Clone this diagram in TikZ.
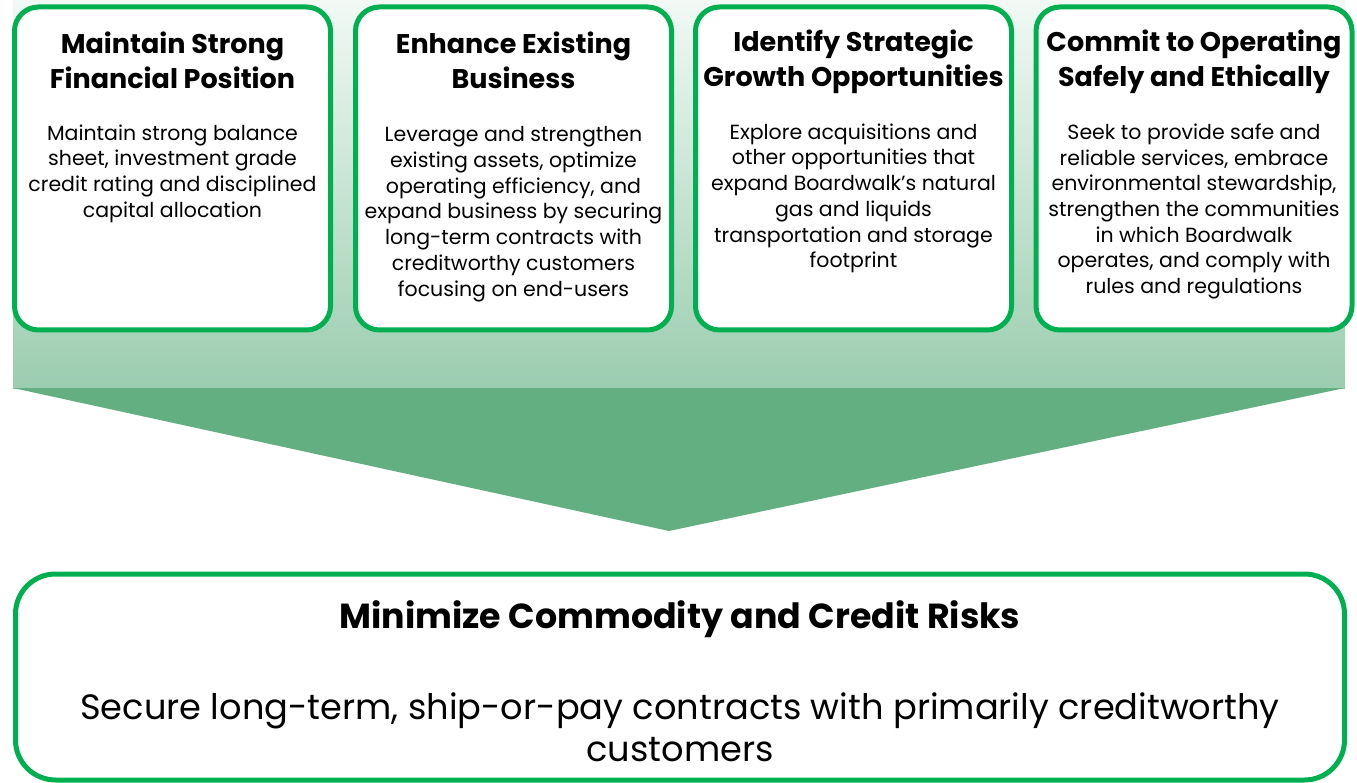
\documentclass[tikz,border=0pt]{standalone}
\usepackage{fontspec}
\setmainfont{Poppins}
\usetikzlibrary{positioning}
\definecolor{boxgreen}{HTML}{00B050}
\definecolor{arrowgreen}{HTML}{63AF82}
\definecolor{fadetop}{HTML}{F2F9F5}
\definecolor{fadebottom}{HTML}{9BCDAF}

\begin{document}
\begin{tikzpicture}[x=1pt, y=-1pt,
    goal/.style={draw=boxgreen, line width=5pt, fill=white, rounded corners=24pt,
        minimum width=316pt, minimum height=323pt, inner sep=0pt},
    title/.style={font=\fontsize{27}{35}\selectfont\bfseries, align=center,
        inner sep=0pt},
    body/.style={font=\fontsize{20.5}{25.7}\selectfont, align=center,
        inner sep=0pt}
]
    \useasboundingbox (0,0) rectangle (1357,783);
    % funnel behind the goals
    \shade[top color=fadetop, bottom color=fadebottom] (13,0) rectangle (1345,388);
    \fill[arrowgreen] (13,388) -- (1345,388) -- (669,531) -- cycle;
    % four goals
    \node[goal] (fin) at (172.5,168.5) {};
    \node[goal] (enh) at (513.5,168.5) {};
    \node[goal] (grow) at (853.5,168.5) {};
    \node[goal] (safe) at (1194,168.5) {};
    \node[title, below=27pt of fin.north] (fint) {Maintain Strong\\Financial Position};
    \node[title, below=27pt of enh.north] (enht) {Enhance Existing\\Business};
    \node[title, below=25pt of grow.north] (growt) {Identify Strategic\\Growth Opportunities};
    \node[title, below=25pt of safe.north] (safet) {Commit to Operating\\Safely and Ethically};
    \node[body, below=120pt of fin.north] (finb) {Maintain strong balance\\sheet, investment grade\\credit rating and disciplined\\capital allocation};
    \node[body, below=122pt of enh.north] (enhb) {Leverage and strengthen\\existing assets, optimize\\operating efficiency, and\\expand business by securing\\long-term contracts with\\creditworthy customers\\focusing on end-users};
    \node[body, below=119pt of grow.north] (growb) {Explore acquisitions and\\other opportunities that\\expand Boardwalk’s natural\\gas and liquids\\transportation and storage\\footprint};
    \node[body, below=119pt of safe.north] (safeb) {Seek to provide safe and\\reliable services, embrace\\environmental stewardship,\\strengthen the communities\\in which Boardwalk\\operates, and comply with\\rules and regulations};
    % overall goal
    \node[goal, minimum width=1329pt, minimum height=206pt, rounded corners=40pt] (risk) at (680,677) {};
    \node[title, font=\fontsize{34.8}{42}\selectfont\bfseries, below=29pt of risk.north] (riskt) {Minimize Commodity and Credit Risks};
    \node[body, font=\fontsize{35.2}{42}\selectfont, below=121pt of risk.north] (riskb) {Secure long-term, ship-or-pay contracts with primarily creditworthy\\customers};
\end{tikzpicture}
\end{document}
